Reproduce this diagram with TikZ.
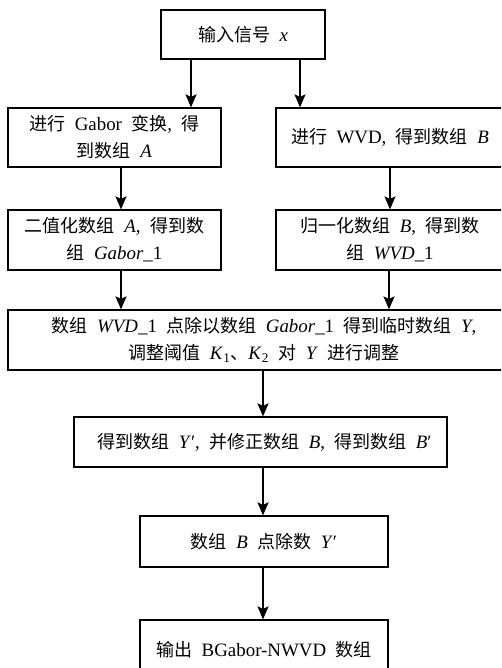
\documentclass[tikz,border=0pt]{standalone}
\usepackage{fontspec}
\setmainfont{Liberation Serif}[Scale=1.05,WordSpace=2.0]
\newfontfamily\cjk{Noto Sans CJK SC}
\usetikzlibrary{arrows.meta}
\newcommand\zh[1]{{\cjk #1}}
\newcommand\pr{\char"2032\relax}
\begin{document}
\begin{tikzpicture}[x=1pt,y=-1pt,
  box/.style={draw,line width=1.2pt,inner sep=0pt,align=center,
    font=\fontsize{18pt}{27pt}\selectfont},
  arr/.style={line width=1.8pt,-{Stealth[length=13pt,width=11pt,inset=2.5pt]}}]
\useasboundingbox (0,0) rectangle (501,668);
\clip (0,0) rectangle (501,668);
\node[box,minimum width=164pt,minimum height=49pt] (top) at (243,34.5) {\zh{输入信号} \textit{x}};
\node[box,minimum width=213pt,minimum height=59pt] (gab) at (114.5,137.5) {\zh{进行} Gabor \zh{变换}, \zh{得}\\\zh{到数组} \textit{A}};
\node[box,minimum width=228pt,minimum height=59pt] (wvd) at (390,137.5) {\zh{进行} WVD, \zh{得到数组} \textit{B}};
\node[box,minimum width=213pt,minimum height=60pt] (bin) at (114.5,240) {\zh{二值化数组} \textit{A}, \zh{得到数}\\\zh{组} \textit{Gabor}\_1};
\node[box,minimum width=228pt,minimum height=60pt] (nrm) at (390,240) {\zh{归一化数组} \textit{B}, \zh{得到数}\\\zh{组} \textit{WVD}\_1};
\node[box,minimum width=512pt,minimum height=60pt] (div) at (264,340) {\zh{数组} \textit{WVD}\_1 \zh{点除以数组} \textit{Gabor}\_1 \zh{得到临时数组} \textit{Y},\\\zh{调整阈值} \textit{K}\textsubscript{1}\zh{、}\textit{K}\textsubscript{2} \zh{对} \textit{Y} \zh{进行调整}};
\node[box,minimum width=373pt,minimum height=50pt] (fix) at (260.5,442) {\hspace*{8pt}\zh{得到数组} \textit{Y}\pr, \zh{并修正数组} \textit{B}, \zh{得到数组} \textit{B}\pr};
\node[box,minimum width=248pt,minimum height=51pt] (pdiv) at (264,541.5) {\zh{数组} \textit{B} \zh{点除数} \textit{Y}\pr};
\node[box,minimum width=248pt,minimum height=60pt] (out) at (264,650) {\zh{输出} BGabor-NWVD \zh{数组}};
\draw[arr] ([xshift=-52pt]top.south) -- ([xshift=-52pt]top.south |- gab.north);
\draw[arr] ([xshift=57pt]top.south) -- ([xshift=57pt]top.south |- wvd.north);
\draw[arr] ([xshift=6.5pt]gab.south) -- ([xshift=6.5pt]bin.north);
\draw[arr] (wvd.south) -- (nrm.north);
\draw[arr] ([xshift=6.5pt]bin.south) -- ([xshift=6.5pt]bin.south |- div.north);
\draw[arr] ([xshift=-1pt]nrm.south) -- ([xshift=-1pt]nrm.south |- div.north);
\draw[arr] ([xshift=-1pt]div.south) -- ([xshift=-1pt]div.south |- fix.north);
\draw[arr] ([xshift=-1pt]pdiv.north |- fix.south) -- ([xshift=-1pt]pdiv.north);
\draw[arr] ([xshift=-1pt]pdiv.south) -- ([xshift=-1pt]out.north);
\end{tikzpicture}
\end{document}
